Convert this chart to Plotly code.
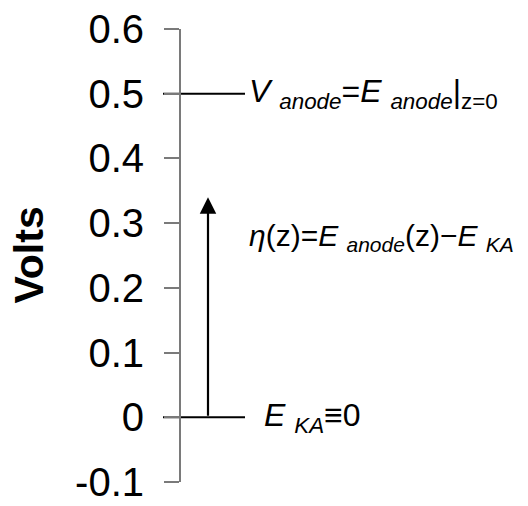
import plotly.graph_objects as go

# ---- data ----
tick_vals = [-0.1, 0, 0.1, 0.2, 0.3, 0.4, 0.5, 0.6]
tick_text = ["-0.1", "0", "0.1", "0.2", "0.3", "0.4", "0.5", "0.6"]
level_names = ["V_anode", "E_KA"]
level_values = [0.5, 0.0]
eta_top = 0.34
eta_label_y = 0.278
axis_title = "Volts"

# ---- layout constants (pixel-like x coordinates across the canvas) ----
W, H = 528, 506
axis_x = 180
line_x0, line_x1 = 163, 245
arrow_x = 208
label_x = 247
FONT = "Liberation Sans, Arial, Helvetica, sans-serif"

fig = go.Figure()

for v in level_values:
    fig.add_trace(go.Scatter(
        x=[line_x0, line_x1], y=[v, v], mode="lines",
        line=dict(color="black", width=2), showlegend=False, hoverinfo="skip",
        cliponaxis=False,
    ))

# arrow (eta)
fig.add_annotation(
    x=arrow_x, y=eta_top, ax=arrow_x, ay=level_values[1],
    xref="x", yref="y", axref="x", ayref="y",
    text="", showarrow=True, arrowhead=2, arrowsize=1.5, arrowwidth=2.2,
    arrowcolor="black", standoff=0, startstandoff=0,
)

lab_font = dict(family=FONT, size=32, color="black")
fig.add_annotation(
    x=label_x, y=level_values[0], xref="x", yref="y", xanchor="left", yanchor="middle",
    text="<i>V</i> <sub><i>anode</i></sub>=<i>E</i> <sub><i>anode</i></sub>|<sub>z=0</sub>",
    showarrow=False, font=lab_font,
)
fig.add_annotation(
    x=label_x, y=eta_label_y, xref="x", yref="y", xanchor="left", yanchor="middle",
    text="<i>η</i>(z)=<i>E</i> <sub><i>anode</i></sub>(z)−<i>E</i> <sub><i>KA</i></sub>",
    showarrow=False, font=dict(family=FONT, size=30, color="black"),
)
fig.add_annotation(
    x=262, y=level_values[1], xref="x", yref="y", xanchor="left", yanchor="middle",
    text="<i>E</i> <sub><i>KA</i></sub>≡0",
    showarrow=False, font=lab_font,
)
fig.add_annotation(
    x=28, y=0.25, xref="x", yref="y", xanchor="center", yanchor="middle",
    text="<b>" + axis_title + "</b>", textangle=-90,
    showarrow=False, font=dict(family=FONT, size=41, color="black"),
)

fig.update_layout(
    width=W, height=H,
    margin=dict(l=0, r=0, t=29, b=24),
    paper_bgcolor="white", plot_bgcolor="white",
    xaxis=dict(range=[0, W], domain=[0, 1], visible=False, fixedrange=True),
    yaxis=dict(
        range=[-0.1, 0.6], anchor="free", position=axis_x / W,
        tickvals=tick_vals, ticktext=tick_text,
        showline=True, linecolor="#7a7a7a", linewidth=2,
        ticks="outside", ticklen=15, tickwidth=2, tickcolor="#7a7a7a",
        ticklabelstandoff=12,
        tickfont=dict(family=FONT, size=40, color="black"),
        showgrid=False, zeroline=False,
    ),
)

fig.write_html("out.html")
